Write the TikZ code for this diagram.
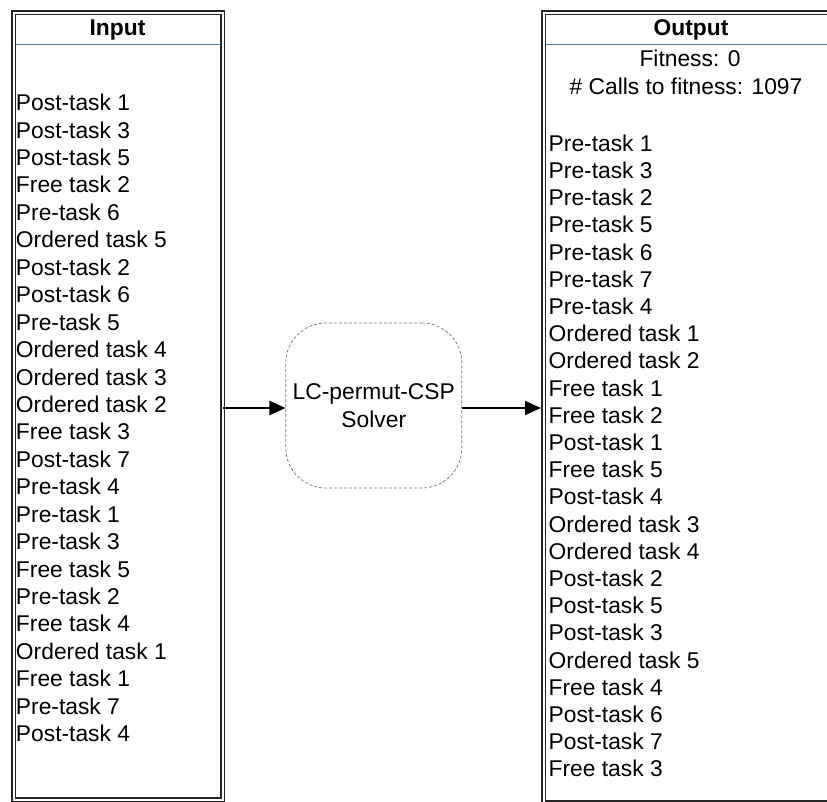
\documentclass[tikz,border=0pt]{standalone}
\usepackage{fontspec}
\setmainfont{Liberation Sans}
\usetikzlibrary{arrows.meta}
\definecolor{sepblue}{RGB}{90,120,165}
\begin{document}
\begin{tikzpicture}[x=1pt,y=-1pt,
  every node/.style={font=\fontsize{22.8}{27.5}\selectfont, inner sep=0pt},
  item/.style={anchor=base west},
  title/.style={anchor=base, font=\fontsize{22.8}{27.5}\selectfont\bfseries},
  boxframe/.style={draw=black!85, line width=1.3pt, double=white, double distance=2.2pt,
    minimum width=#1, anchor=north west},
  sepline/.style={draw=sepblue, line width=0.8pt, shorten <=2.5pt, shorten >=2.5pt},
  solverbox/.style={draw=black!55, line width=0.7pt, dash pattern=on 3pt off 2pt,
    rounded corners=40pt, minimum width=176pt, minimum height=165pt, align=center},
  conn/.style={line width=2pt, -{Triangle[length=16pt,width=14pt]}}
]
\useasboundingbox (0,0) rectangle (827,801);
\clip (0,0) rectangle (827,801);

% boxes
\node[boxframe=209pt, minimum height=787pt] (inbox) at (13,12) {};
\node[boxframe=294pt, minimum height=790pt] (outbox) at (543,12) {};

\draw[sepline] (inbox.west |- 0,44) -- (inbox.east |- 0,44);
\draw[sepline] (outbox.west |- 0,44) -- (outbox.east |- 0,44);

\node[title] (intitle) at (117.5,35) {Input};
\node[title] (outtitle) at (691,35) {Output};

\node[anchor=base] (fit) at (690,66.7) {Fitness: 0};
\node[anchor=base] (calls) at (686,94.3) {\# Calls to fitness: 1097};

% input list
\foreach \t [count=\i] in {Post-task 1,Post-task 3,Post-task 5,Free task 2,Pre-task 6,
  Ordered task 5,Post-task 2,Post-task 6,Pre-task 5,Ordered task 4,Ordered task 3,
  Ordered task 2,Free task 3,Post-task 7,Pre-task 4,Pre-task 1,Pre-task 3,Free task 5,
  Pre-task 2,Free task 4,Ordered task 1,Free task 1,Pre-task 7,Post-task 4}
  \node[item] (in\i) at (15.8,{110.7+27.43*(\i-1)}) {\t};

% output list
\foreach \t [count=\i] in {Pre-task 1,Pre-task 3,Pre-task 2,Pre-task 5,Pre-task 6,
  Pre-task 7,Pre-task 4,Ordered task 1,Ordered task 2,Free task 1,Free task 2,
  Post-task 1,Free task 5,Post-task 4,Ordered task 3,Ordered task 4,Post-task 2,
  Post-task 5,Post-task 3,Ordered task 5,Free task 4,Post-task 6,Post-task 7,Free task 3}
  \node[item] (out\i) at (548.5,{151.2+27.2*(\i-1)}) {\t};

% solver
\node[solverbox] (solver) at (373.8,405.5) {LC-permut-CSP\\Solver};

% connectors
\draw[conn] (inbox.east |- 0,408) -- (solver.west |- 0,408);
\draw[conn, shorten >=2pt] (solver.east |- 0,408) -- (outbox.west |- 0,408);
\end{tikzpicture}
\end{document}
